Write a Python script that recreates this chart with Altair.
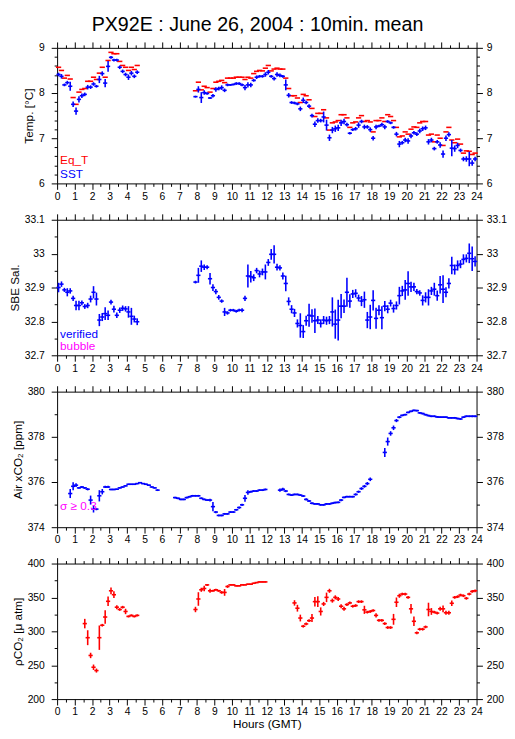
import altair as alt
import pandas as pd

TITLE = "PX92E : June 26, 2004 : 10min. mean"
FONT = "Liberation Sans, Arial, Helvetica, sans-serif"
NARROW = "Liberation Sans Narrow, Arial Narrow, Liberation Sans, sans-serif"

# ---------------------------------------------------------------------------
# Data: 10-minute means. Each block starts at bin index k; bin k is centred
# on hour (k + 0.5) / 6.
# ---------------------------------------------------------------------------
# Panel 1 - SST (blue) and equilibrator temperature Eq_T (red)
sst_a_start = 0
sst_a = [8.41, 8.37, 8.18, 8.23, 8.15, 7.75, 7.60, 7.86, 7.94, 7.97, 8.13, 8.13, 8.20, 8.15,
         8.30, 8.43, 8.22, 8.59, 8.79, 8.73, 8.73, 8.57, 8.48, 8.41, 8.35, 8.44, 8.37, 8.46]
sst_a_err = [0.04, 0.05, 0.03, 0.04, 0.10, 0.06, 0.08, 0.07, 0.05, 0.04, 0.05, 0.04, 0.04, 0.03,
             0.08, 0.05, 0.09, 0.12, 0.03, 0.03, 0.03, 0.04, 0.04, 0.04, 0.06, 0.05, 0.04, 0.04]
sst_b_start = 47
sst_b = [7.92, 8.08, 7.90, 8.01, 7.99, 7.89, 7.94, 8.08, 8.10, 8.12, 8.06, 8.18, 8.18, 8.19,
         8.21, 8.21, 8.18, 8.12, 8.18, 8.18, 8.28, 8.35, 8.37, 8.37, 8.41,
         8.46, 8.37, 8.32, 8.41, 8.39, 8.37, 8.18, 7.95, 7.79, 7.78, 7.76, 7.65,
         7.84, 7.79, 7.71, 7.50, 7.31, 7.39, 7.39, 7.47, 7.29, 7.01, 7.18, 7.21,
         7.23, 7.34, 7.37, 7.30, 7.11, 7.19, 7.21, 7.29, 7.37, 7.25, 7.25, 7.19,
         7.00, 7.25, 7.27, 7.30, 7.25, 7.37, 7.34, 7.24, 7.09, 6.87, 6.90, 6.96,
         6.94, 7.05, 7.12, 7.09, 7.16, 7.21, 7.23, 6.92, 6.96, 6.77, 6.92, 6.85,
         6.65, 7.00, 7.08, 6.78, 6.77, 6.84, 6.73, 6.54, 6.54, 6.54, 6.45, 6.54]
sst_b_err = [0.02, 0.07, 0.12, 0.05, 0.03, 0.02, 0.04, 0.05, 0.04, 0.05, 0.04, 0.03, 0.02, 0.02,
             0.03, 0.03, 0.03, 0.06, 0.06, 0.05, 0.03, 0.04, 0.03, 0.03, 0.05,
             0.05, 0.03, 0.04, 0.05, 0.04, 0.03, 0.12, 0.05, 0.03, 0.03, 0.03, 0.05,
             0.06, 0.04, 0.04, 0.04, 0.06, 0.05, 0.04, 0.12, 0.12, 0.07, 0.07, 0.07,
             0.07, 0.07, 0.06, 0.04, 0.03, 0.03, 0.04, 0.06, 0.04, 0.05, 0.04, 0.05,
             0.05, 0.05, 0.03, 0.04, 0.05, 0.03, 0.03, 0.03, 0.05, 0.07, 0.04, 0.05,
             0.06, 0.05, 0.04, 0.04, 0.05, 0.05, 0.05, 0.06, 0.05, 0.04, 0.04, 0.06,
             0.08, 0.06, 0.05, 0.18, 0.07, 0.06, 0.04, 0.05, 0.06, 0.16, 0.06, 0.05]
eqt_a = [8.57, 8.50, 8.33, 8.39, 8.31, 7.90, 7.75, 8.02, 8.08, 8.10, 8.26, 8.26, 8.35, 8.30,
         8.44, 8.57, 8.35, 8.72, 8.90, 8.87, 8.87, 8.70, 8.61, 8.57, 8.50, 8.57, 8.52, 8.61]
eqt_b = [8.05, 8.24, 8.07, 8.15, 8.12, 8.02, 8.10, 8.24, 8.26, 8.28, 8.23, 8.33, 8.33, 8.33,
         8.35, 8.35, 8.35, 8.30, 8.35, 8.33, 8.43, 8.48, 8.50, 8.49, 8.55,
         8.61, 8.49, 8.53, 8.55, 8.53, 8.53, 8.33, 8.10, 7.94, 7.94, 7.89, 7.79,
         7.97, 7.94, 7.85, 7.66, 7.48, 7.55, 7.55, 7.63, 7.45, 7.18, 7.34, 7.36,
         7.39, 7.52, 7.52, 7.45, 7.24, 7.34, 7.36, 7.45, 7.50, 7.37, 7.39, 7.36,
         7.14, 7.39, 7.39, 7.45, 7.37, 7.52, 7.48, 7.39, 7.24, 7.03, 7.05, 7.14,
         7.09, 7.20, 7.25, 7.24, 7.34, 7.37, 7.37, 7.07, 7.09, 6.92, 7.07, 7.00,
         6.84, 7.14, 7.24, 6.96, 6.90, 6.98, 6.87, 6.67, 6.72, 6.71, 6.64, 6.67]

# Panel 2 - SBE salinity (verified)
sal_a_start = 0
sal_a = [32.900, 32.910, 32.893, 32.886, 32.890, 32.868, 32.847, 32.847, 32.855, 32.844,
         32.847, 32.866, 32.886, 32.866, 32.804, 32.813, 32.823, 32.818, 32.857, 32.836,
         32.818, 32.833, 32.839, 32.837, 32.828, 32.815, 32.807, 32.799]
sal_a_err = [0.014, 0.008, 0.006, 0.012, 0.008, 0.008, 0.014, 0.014, 0.007, 0.007,
             0.008, 0.010, 0.018, 0.019, 0.018, 0.012, 0.019, 0.014, 0.007, 0.010,
             0.008, 0.008, 0.008, 0.008, 0.017, 0.025, 0.010, 0.010]
sal_b_start = 47
sal_b = [32.916, 32.936, 32.963, 32.960, 32.960, 32.926, 32.900, 32.888, 32.871, 32.860,
         32.828, 32.825, 32.833, 32.833, 32.830, 32.833, 32.833, 32.868, 32.934, 32.932,
         32.929, 32.950, 32.940, 32.946, 32.946,
         32.974, 32.998, 32.998, 32.960, 32.958, 32.934,
         32.912, 32.859, 32.836, 32.825, 32.794, 32.788,
         32.770, 32.802, 32.818, 32.816, 32.802, 32.804,
         32.794, 32.804, 32.802, 32.804, 32.828, 32.792,
         32.804, 32.845, 32.845, 32.886, 32.860, 32.881,
         32.883, 32.869, 32.860, 32.864, 32.804, 32.813,
         32.862, 32.809, 32.833, 32.811, 32.845, 32.836,
         32.854, 32.838, 32.847, 32.876, 32.890, 32.893,
         32.912, 32.902, 32.902, 32.888, 32.884, 32.862,
         32.871, 32.871, 32.890, 32.895, 32.876, 32.908,
         32.895, 32.886, 32.912, 32.965, 32.953, 32.965,
         32.969, 32.983, 32.986, 33.001, 32.985, 32.977]
sal_b_err = [0.004, 0.022, 0.017, 0.008, 0.006, 0.017, 0.010, 0.008, 0.007, 0.005,
             0.012, 0.005, 0.004, 0.004, 0.004, 0.004, 0.006, 0.008, 0.034, 0.017,
             0.010, 0.008, 0.010, 0.010, 0.022,
             0.010, 0.016, 0.027, 0.010, 0.008, 0.010,
             0.023, 0.012, 0.012, 0.012, 0.012, 0.036,
             0.019, 0.015, 0.034, 0.020, 0.036, 0.012,
             0.012, 0.012, 0.012, 0.012, 0.043, 0.043,
             0.060, 0.036, 0.020, 0.043, 0.020, 0.012,
             0.012, 0.010, 0.015, 0.024, 0.024, 0.036,
             0.030, 0.031, 0.015, 0.034, 0.015, 0.012,
             0.010, 0.012, 0.012, 0.026, 0.015, 0.029,
             0.036, 0.015, 0.012, 0.008, 0.008, 0.015,
             0.015, 0.024, 0.012, 0.019, 0.015, 0.026,
             0.041, 0.015, 0.015, 0.026, 0.015, 0.015,
             0.012, 0.015, 0.012, 0.029, 0.036, 0.015]

# Panel 3 - atmospheric xCO2
air_a_start = 4
air_a = [375.49, 375.81, 375.86, 375.74, 375.78, 375.74, 375.68, 375.20, 374.80, 374.80,
         375.39, 375.57, 375.78, 375.78, 375.67, 375.67, 375.68, 375.74, 375.78, 375.83,
         375.90, 375.90, 375.90, 375.93, 375.97, 375.93, 375.90, 375.86, 375.78, 375.74, 375.64]
air_a_err = [0.20, 0.18, 0.08, 0.04, 0.04, 0.04, 0.05, 0.20, 0.15, 0.05,
             0.25, 0.12, 0.05, 0.05, 0.03, 0.03, 0.03, 0.03, 0.03, 0.03,
             0.03, 0.03, 0.03, 0.03, 0.03, 0.03, 0.03, 0.03, 0.03, 0.03, 0.04]
air_b_start = 40
air_b = [375.31, 375.28, 375.23, 375.23, 375.31, 375.35, 375.39, 375.39, 375.39, 375.28,
         375.23, 375.20, 375.20, 374.91, 374.67, 374.52, 374.52, 374.59, 374.59, 374.67,
         374.67, 374.77, 374.87, 374.99, 375.28, 375.54, 375.57, 375.60, 375.60, 375.64,
         375.64, 375.67]
air_b_err = [0.04, 0.04, 0.04, 0.04, 0.04, 0.04, 0.04, 0.04, 0.04, 0.04,
             0.04, 0.04, 0.06, 0.20, 0.05, 0.04, 0.04, 0.04, 0.04, 0.04,
             0.04, 0.04, 0.05, 0.05, 0.15, 0.10, 0.04, 0.04, 0.04, 0.04,
             0.04, 0.04]
air_c_start = 76
air_c = [375.64, 375.68, 375.60, 375.45, 375.42, 375.45, 375.45, 375.42, 375.38, 375.23,
         375.16, 375.06, 375.03, 375.03, 374.99, 374.99, 375.03, 375.03, 375.06, 375.09,
         375.10, 375.20, 375.32, 375.35, 375.35, 375.35, 375.45, 375.57, 375.71, 375.81,
         375.93, 376.12]
air_c_err = [0.07, 0.07, 0.05, 0.04, 0.04, 0.04, 0.04, 0.04, 0.04, 0.05,
             0.04, 0.04, 0.04, 0.04, 0.04, 0.04, 0.04, 0.04, 0.04, 0.04,
             0.04, 0.05, 0.04, 0.04, 0.04, 0.04, 0.05, 0.05, 0.06, 0.06,
             0.07, 0.08]
air_d_start = 112
air_d = [377.31, 377.79, 378.15, 378.40, 378.72, 378.87, 378.95, 378.98, 379.08, 379.13,
         379.17, 379.16, 379.06, 379.03, 378.98, 378.94, 378.91, 378.91, 378.88, 378.87,
         378.87, 378.87, 378.84, 378.84, 378.84, 378.81, 378.79, 378.87, 378.91, 378.91,
         378.91, 378.91]
air_d_err = [0.20, 0.18, 0.10, 0.10, 0.07, 0.05, 0.04, 0.04, 0.04, 0.04,
             0.04, 0.04, 0.04, 0.04, 0.04, 0.04, 0.04, 0.04, 0.04, 0.04,
             0.04, 0.04, 0.04, 0.04, 0.04, 0.04, 0.04, 0.04, 0.04, 0.04,
             0.04, 0.04]

# Panel 4 - seawater pCO2
pco2_a_start = 9
pco2_a = [311.4, 290.6, 264.4, 247.0, 242.1, 290.6, 309.0, 321.1, 344.3, 359.8,
          354.0, 335.6, 332.2, 335.6, 329.3, 322.0, 323.5, 322.0, 323.5]
pco2_a_err = [7, 11, 4, 4, 3, 18, 2, 10, 7, 5, 5, 3, 2, 2, 4, 1.5, 1.5, 1.5, 1.5]
pco2_b_start = 47
pco2_b = [332.2, 347.7, 361.3, 363.2, 368.5, 359.8, 359.8, 361.3, 359.8, 357.4,
          357.4, 366.1, 368.5, 368.5, 367.1, 367.1, 368.5, 368.5, 369.5, 369.5,
          370.9, 371.9, 372.9, 372.9, 372.9]
pco2_b_err = [4, 10, 3, 4, 1.5, 3, 1.5, 1.5, 1.5, 2, 5, 2, 1, 1, 1, 1, 1, 1, 1, 1,
              1, 1, 1, 1, 1]
pco2_c_start = 81
pco2_c = [341.9, 334.1, 319.6, 307.5, 310.9, 315.7, 319.6, 343.8, 343.8, 329.3,
          340.4, 350.1, 359.8, 345.3, 350.1, 347.7, 337.0, 333.2, 339.5, 341.9,
          337.0, 338.0, 343.8, 343.8, 331.7, 328.3, 329.3, 330.7, 323.5, 316.2,
          316.2, 311.4, 305.6, 305.6, 317.7, 342.9, 352.5, 355.0, 355.0, 350.1,
          333.2, 314.8, 297.8, 303.1, 303.1, 306.5, 332.2, 329.3, 328.3, 326.9,
          333.2, 333.2, 327.4, 327.4, 341.4, 350.1, 351.1, 353.5, 352.5, 348.7,
          355.0, 358.8, 359.8]
pco2_c_err = [4, 5, 5, 2, 2, 2, 6, 7, 8, 6,
              3, 7, 3, 3, 3, 3, 3, 3, 2, 2,
              2, 2, 2, 2, 6, 2, 2, 2, 3, 2,
              2, 2, 2, 2, 8, 7, 3, 2, 2, 2,
              7, 7, 2, 2, 2, 2, 10, 5, 2, 2,
              3, 5, 3, 3, 4, 2, 2, 2, 2, 2,
              2, 2, 2]

# Axis tick values
hour_ticks = [i / 2 for i in range(49)]
temp_ticks = [round(6 + 0.2 * i, 2) for i in range(16)]
sal_ticks = [round(32.7 + 0.05 * i, 3) for i in range(9)]
air_ticks = [374 + i for i in range(7)]
pco2_ticks = [200 + 25 * i for i in range(9)]


def blocks_df(blocks):
    rows = []
    for start, vals, errs in blocks:
        for i, v in enumerate(vals):
            k = start + i
            rows.append({"t": (k + 0.5) / 6, "v": v, "e": errs[i] if errs else 0.0})
    return pd.DataFrame(rows)


sst_df = blocks_df([(sst_a_start, sst_a, sst_a_err), (sst_b_start, sst_b, sst_b_err)])
eqt_df = blocks_df([(sst_a_start, eqt_a, None), (sst_b_start, eqt_b, None)])
sal_df = blocks_df([(sal_a_start, sal_a, sal_a_err), (sal_b_start, sal_b, sal_b_err)])
air_df = blocks_df([(air_a_start, air_a, air_a_err), (air_b_start, air_b, air_b_err),
                    (air_c_start, air_c, air_c_err), (air_d_start, air_d, air_d_err)])
pco2_df = blocks_df([(pco2_a_start, pco2_a, pco2_a_err), (pco2_b_start, pco2_b, pco2_b_err),
                     (pco2_c_start, pco2_c, pco2_c_err)])

W, H = 427, 138
BLUE, RED, MAGENTA = "#0000ff", "#ff0000", "#ff00ff"
XTEST = "datum.value % 1 === 0"


def x_axis(orient, labels, title=None):
    kw = dict(orient=orient, values=hour_ticks, grid=False, domainColor="black",
              tickColor="black", tickWidth=1, domainWidth=1,
              tickSize={"condition": {"test": XTEST, "value": 6}, "value": 3},
              labels=labels, labelFont=FONT, labelFontSize=10.5, labelColor="black",
              labelPadding=2, labelOverlap=False, labelFlush=False, labelBound=False,
              labelExpr=f"({XTEST}) ? format(datum.value, 'd') : ''",
              titleFont=FONT, titleFontSize=12, titleFontWeight="normal",
              titleColor="black", titlePadding=1)
    kw["title"] = title
    return alt.Axis(**kw)


def y_axis(orient, values, test, label, title=None, pad=7):
    kw = dict(orient=orient, values=values, grid=False, domainColor="black",
              tickColor="black", tickWidth=1, domainWidth=1,
              tickSize={"condition": {"test": test, "value": 6}, "value": 3},
              labelFont=FONT, labelFontSize=10.5, labelColor="black",
              labelPadding=pad, labelOverlap=False, labelFlush=False, labelBound=False,
              labelExpr=f"({test}) ? ({label}) : ''",
              titleFont=NARROW, titleFontSize=12, titleFontWeight="normal",
              titleColor="black", titlePadding=3)
    kw["title"] = title
    return alt.Axis(**kw)


def crosses(df, color, hw, xs, ys, xax, yax, vertical=True, sw=1.6):
    base = alt.Chart(df).transform_calculate(
        lo="datum.v - datum.e", hi="datum.v + datum.e",
        x0=f"datum.t - {hw}", x1=f"datum.t + {hw}")
    layers = []
    if vertical:
        layers.append(base.mark_rule(color=color, strokeWidth=sw).encode(
            x=alt.X("t:Q", scale=xs, axis=xax),
            y=alt.Y("lo:Q", scale=ys, axis=yax),
            y2="hi:Q"))
    layers.append(base.mark_rule(color=color, strokeWidth=sw).encode(
        x=alt.X("x0:Q", scale=xs, axis=xax), x2="x1:Q",
        y=alt.Y("v:Q", scale=ys, axis=yax)))
    return layers


one = pd.DataFrame({"n": [0]})


def label_text(text, color, ypix):
    return alt.Chart(one).mark_text(
        text=text, color=color, font=FONT, fontSize=12, align="left", baseline="middle"
    ).encode(x=alt.value(3), y=alt.value(ypix))


def panel(series, domain, ticks, test, lab, title, texts, xtitle=None):
    xs = alt.Scale(domain=[0, 24], nice=False, zero=False)
    ys = alt.Scale(domain=domain, nice=False, zero=False)
    xax = x_axis("bottom", True, xtitle)
    yax = y_axis("left", ticks, test, lab, title, pad=7)
    layers = []
    for df, color, hw, vertical in series:
        layers += crosses(df, color, hw, xs, ys, xax, yax, vertical)
    layers += texts
    inner = alt.layer(*layers)
    frame_df = pd.DataFrame({"fx": [0, 24], "fy": domain})
    frame = alt.Chart(frame_df).mark_point(opacity=0).encode(
        x=alt.X("fx:Q", scale=xs, axis=x_axis("top", False)),
        y=alt.Y("fy:Q", scale=ys, axis=y_axis("right", ticks, test, lab, None, pad=4)))
    return alt.layer(inner, frame).resolve_scale(x="independent", y="independent").properties(
        width=W, height=H)


p1 = panel([(eqt_df, RED, 0.15, False), (sst_df, BLUE, 0.12, True)], [6, 9], temp_ticks,
           "abs(datum.value - round(datum.value)) < 0.001", "'' + round(datum.value)",
           "Temp. [°C]", [label_text("Eq_T", RED, 114), label_text("SST", BLUE, 128)])
p2 = panel([(sal_df, BLUE, 0.12, True)], [32.7, 33.1], sal_ticks,
           "abs(datum.value * 10 - round(datum.value * 10)) < 0.001",
           "'' + round(datum.value * 10) / 10",
           "SBE Sal.", [label_text("verified", BLUE, 116), label_text("bubble", MAGENTA, 129)])
p3 = panel([(air_df, BLUE, 0.12, True)], [374, 380], air_ticks,
           "datum.value % 2 === 0", "'' + datum.value",
           "Air xCO₂ [ppm]", [label_text("σ ≥ 0.3", MAGENTA, 116)])
p4 = panel([(pco2_df, RED, 0.12, True)], [200, 400], pco2_ticks,
           "datum.value % 50 === 0", "'' + datum.value",
           "ρCO₂ [μ atm]", [], xtitle="Hours (GMT)")

chart = alt.vconcat(p1, p2, p3, p4, spacing=37, bounds="flush").properties(
    title=alt.TitleParams(TITLE, font=FONT, fontSize=20, fontWeight="normal",
                          color="black", anchor="middle", offset=7),
    padding={"left": 0, "top": 0, "right": 0, "bottom": 0},
).configure_view(strokeWidth=0)

chart.save("out.html", embed_options={"renderer": "svg", "actions": False})
